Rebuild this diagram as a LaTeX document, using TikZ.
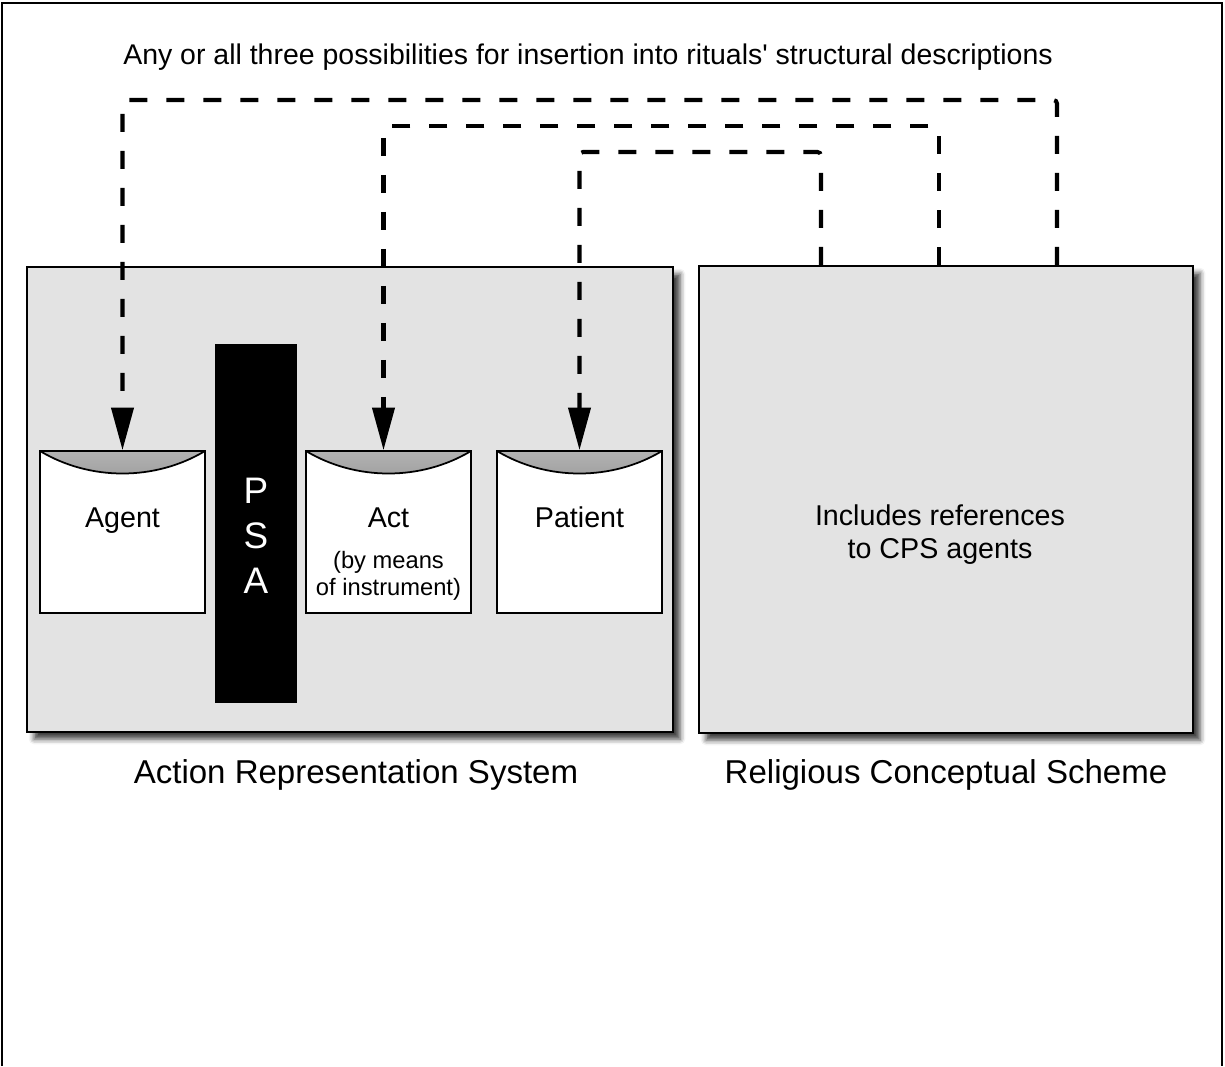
\documentclass[tikz,border=0pt]{standalone}
\usepackage{fontspec}
\setmainfont{Liberation Sans}[Ligatures=TeXOff]
\usetikzlibrary{arrows.meta, shadows.blur, calc, positioning}

\tikzset{
  sysbox/.style={draw=black, line width=1.2pt, fill=gray!22, inner sep=0pt,
    blur shadow={shadow xshift=4pt, shadow yshift=-4pt, shadow blur radius=3pt, shadow opacity=75}},
  card/.style={draw=black, line width=1pt, fill=white, inner sep=0pt,
    minimum width=3.3cm, minimum height=3.24cm,
    path picture={
      \shade[top color=black!30, bottom color=black!75]
        (path picture bounding box.north west)
        .. controls ($(path picture bounding box.north west)+(1.0,-0.6)$)
        and ($(path picture bounding box.north east)+(-1.0,-0.6)$)
        .. (path picture bounding box.north east) -- cycle;
      \draw[line width=1pt]
        (path picture bounding box.north west)
        .. controls ($(path picture bounding box.north west)+(1.0,-0.6)$)
        and ($(path picture bounding box.north east)+(-1.0,-0.6)$)
        .. (path picture bounding box.north east);
    }},
  lbl/.style={font=\fontsize{16.3}{18.7}\selectfont, align=center, inner sep=0pt},
  cardlbl/.style={lbl, anchor=base},
  small/.style={font=\fontsize{13.5}{15.3}\selectfont, align=center, inner sep=0pt},
  conn/.style={line width=2.3pt, dash pattern=on 0.36cm off 0.38cm,
    rounded corners=2pt, -{Triangle[length=0.85cm, width=0.44cm]}},
}

\begin{document}
\begin{tikzpicture}
  \useasboundingbox (0,0) rectangle (24.5,-21.32);
  % Rahmen
  \draw[line width=1.6pt] (0.04,-21.32) -- (0.04,-0.06) -- (24.44,-0.06) -- (24.44,-21.32);

  % Titel
  \node[lbl, font=\fontsize{16.2}{18}\selectfont] (title) at (11.76,-1.14)
    {Any or all three possibilities for insertion into rituals' structural descriptions};

  % Systeme
  \node[sysbox, minimum width=12.92cm, minimum height=9.3cm] (ars) at (7.0,-9.99) {};
  \node[sysbox, minimum width=9.88cm, minimum height=9.34cm] (rcs) at (18.92,-9.99) {};
  \node[lbl, font=\fontsize{18.8}{21}\selectfont] (arslbl) at (7.12,-15.5) {Action Representation System};
  \node[lbl, font=\fontsize{18.8}{21}\selectfont] (rcslbl) at (18.92,-15.5) {Religious Conceptual Scheme};
  \node[lbl] (rcstxt) at (18.8,-10.69) {Includes references\\to CPS agents};

  % PSA
  \node[fill=black, minimum width=1.64cm, minimum height=7.18cm, inner sep=0pt] (psa) at (5.12,-10.47) {};
  \node[lbl, text=white, font=\fontsize{21}{21}\selectfont] (psatxt) at (5.12,-10.72)
    {P\\[0.16cm]S\\[0.16cm]A};

  % Karten
  \node[card] (agent) at (2.45,-10.64) {};
  \node[card] (act) at (7.77,-10.64) {};
  \node[card] (patient) at (11.59,-10.64) {};
  \node[cardlbl] (agenttxt) at ([yshift=-1.54cm]agent.north) {Agent};
  \node[cardlbl] (acttxt) at ([yshift=-1.54cm]act.north) {Act};
  \node[small] (actsub) at ([yshift=-2.51cm]act.north) {(by means\\of instrument)};
  \node[cardlbl] (patienttxt) at ([yshift=-1.54cm]patient.north) {Patient};

  % Verbindungen
  \coordinate (lvlA) at (0,-2.0);
  \coordinate (lvlB) at (0,-2.52);
  \coordinate (lvlC) at (0,-3.04);
  \draw[conn] ([xshift=2.22cm]rcs.north) |- (agent.north |- lvlA) -- (agent.north);
  \draw[conn] ([xshift=-0.14cm]rcs.north) |- ([xshift=-0.1cm]act.north |- lvlB) -- ([xshift=-0.1cm]act.north);
  \draw[conn] ([xshift=-2.5cm]rcs.north) |- (patient.north |- lvlC) -- (patient.north);
\end{tikzpicture}
\end{document}
